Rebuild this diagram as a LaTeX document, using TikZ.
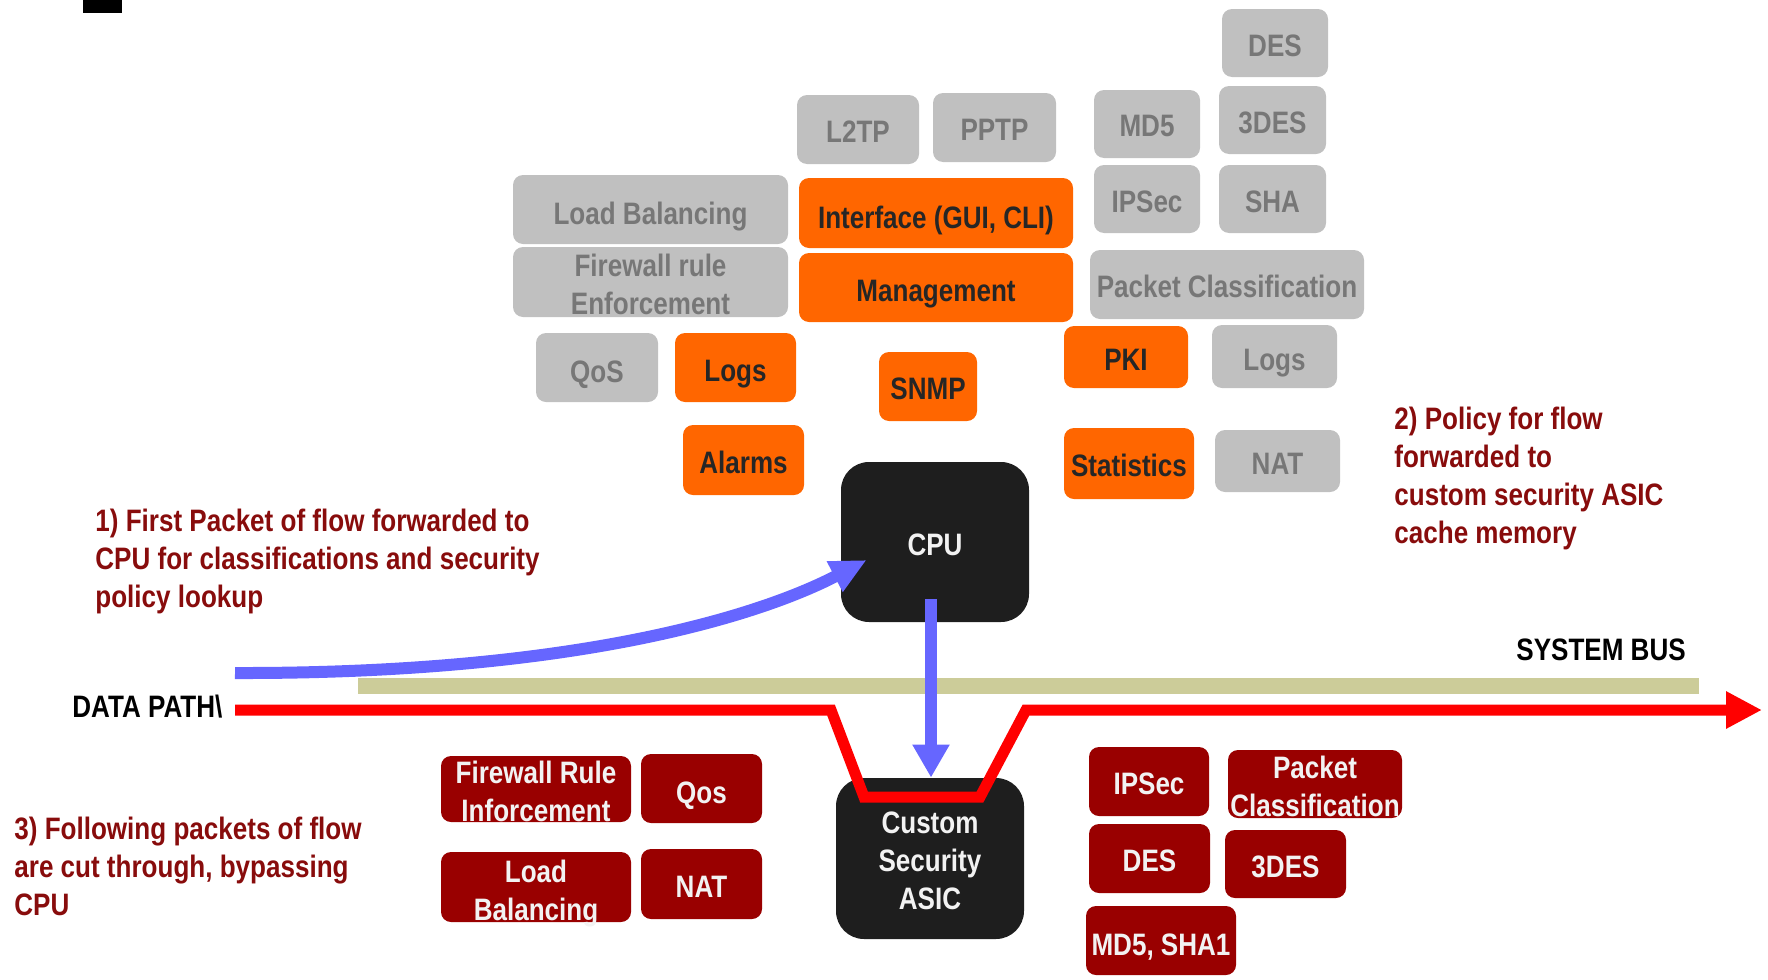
\documentclass[tikz,border=0pt]{standalone}
\usepackage{fontspec}
\setmainfont{Liberation Sans}[FakeStretch=0.84]
\usetikzlibrary{arrows.meta,calc}
\definecolor{boxgray}{HTML}{C0C0C0}
\definecolor{txtgray}{HTML}{777777}
\definecolor{boxorange}{HTML}{FF6600}
\definecolor{txtdark}{HTML}{262626}
\definecolor{boxred}{HTML}{990000}
\definecolor{boxblack}{HTML}{1E1E1E}
\definecolor{annot}{HTML}{880C0C}
\definecolor{flowblue}{HTML}{6666FF}
\definecolor{pathred}{HTML}{FF0000}
\definecolor{busgreen}{HTML}{CCCC99}
% \bx{name}{box style}{text style}{x1}{y1}{x2}{y2}{text}
\newcommand\bx[8]{\node[#2, minimum width={(#6-#4)*0.5pt}, minimum height={(#7-#5)*0.5pt},
  label={[name=#1-t, boxtext, #3]center:{#8}}] (#1) at ({(#4+#6)/2},{(#5+#7)/2}) {};}
\begin{document}
\begin{tikzpicture}[x=0.5pt,y=-0.5pt,
  txt/.style={font=\bfseries\fontsize{15.5pt}{19pt}\selectfont},
  boxtext/.style={txt, inner sep=0pt, align=center, yshift=-1.2pt},
  lower/.style={yshift=-2.3pt},
  base/.style={inner sep=0pt, rounded corners=5pt},
  graybox/.style={base, fill=boxgray},
  orangebox/.style={base, fill=boxorange},
  redbox/.style={base, fill=boxred},
  chipbox/.style={base, fill=boxblack, rounded corners=14pt},
  graytext/.style={text=txtgray},
  darktext/.style={text=txtdark},
  lighttext/.style={text=white!95!black},
  plainrect/.style={inner sep=0pt},
  annottext/.style={txt, text=annot, align=left, inner sep=0pt, anchor=west},
  labeltext/.style={txt, text=black, inner sep=0pt, anchor=west},
  flowarrow/.style={draw=flowblue, line width=6pt, -{Triangle[length=18pt,width=16pt]}},
  datapath/.style={draw=pathred, line width=5.5pt, line join=miter, -{Triangle[length=18pt,width=17.5pt]}}
]
\useasboundingbox (0,0) rectangle (1768,980);

% top-left black mark
\bx{blk}{plainrect, fill=black}{}{83}{0}{122}{13}{}

% system bus
\bx{bus}{plainrect, fill=busgreen}{}{358}{678}{1699}{694}{}

% top boxes
\bx{des}{graybox}{graytext}{1222}{9}{1328}{77}{DES}
\bx{l2tp}{graybox}{graytext}{797}{95}{919}{164}{L2TP}
\bx{pptp}{graybox}{graytext}{933}{93}{1056}{162}{PPTP}
\bx{md5}{graybox}{graytext}{1094}{90}{1200}{158}{MD5}
\bx{tdes}{graybox}{graytext}{1219}{86}{1326}{154}{3DES}
\bx{lb}{graybox}{graytext, lower}{513}{175}{788}{244}{Load Balancing}
\bx{iface}{orangebox}{darktext, lower}{799}{178}{1073}{248}{Interface (GUI, CLI)}
\bx{ipsec}{graybox}{graytext}{1094}{165}{1200}{233}{IPSec}
\bx{sha}{graybox}{graytext}{1219}{165}{1326}{233}{SHA}
\bx{fw}{graybox}{graytext}{513}{247}{788}{317}{Firewall rule\\Enforcement}
\bx{mgmt}{orangebox}{darktext, lower}{799}{253}{1073}{322}{Management}
\bx{pc}{graybox}{graytext}{1090}{250}{1364}{319}{Packet Classification}
\bx{qos}{graybox}{graytext, lower}{536}{333}{658}{402}{QoS}
\bx{logs}{orangebox}{darktext, lower}{675}{333}{796}{402}{Logs}
\bx{snmp}{orangebox}{darktext}{879}{352}{977}{421}{SNMP}
\bx{pki}{orangebox}{darktext}{1064}{326}{1188}{388}{PKI}
\bx{logsb}{graybox}{graytext, lower}{1212}{325}{1337}{388}{Logs}
\bx{alarms}{orangebox}{darktext}{683}{425}{804}{495}{Alarms}
\bx{stats}{orangebox}{darktext}{1064}{428}{1194}{499}{Statistics}
\bx{nat}{graybox}{graytext}{1215}{430}{1340}{492}{NAT}

% chips
\bx{cpu}{chipbox}{lighttext}{841}{462}{1029}{622}{CPU}
\bx{asic}{chipbox}{lighttext}{836}{778}{1024}{939}{Custom\\Security\\ASIC}

% bottom boxes
\bx{bfw}{redbox}{lighttext}{441}{756}{631}{822}{Firewall Rule\\Inforcement}
\bx{bqos}{redbox}{lighttext, lower}{641}{754}{762}{823}{Qos}
\bx{blb}{redbox}{lighttext, lower}{441}{852}{631}{922}{Load\\Balancing}
\bx{bnat}{redbox}{lighttext}{641}{849}{762}{919}{NAT}
\bx{bipsec}{redbox}{lighttext}{1089}{747}{1209}{816}{IPSec}
\bx{bpc}{redbox}{lighttext}{1228}{750}{1402}{818}{Packet\\Classification}
\bx{bdes}{redbox}{lighttext}{1089}{824}{1210}{893}{DES}
\bx{btdes}{redbox}{lighttext}{1225}{830}{1346}{898}{3DES}
\bx{bmd}{redbox}{lighttext, lower}{1086}{906}{1236}{975}{MD5, SHA1}

% labels
\node[annottext] (note1) at (95,561.5) {1) First Packet of flow forwarded to\\CPU for classifications and security\\policy lookup};
\node[annottext] (note2) at (1394,478.5) {2) Policy for flow\\forwarded to\\custom security ASIC\\cache memory};
\node[annottext] (note3) at (14,866) {3) Following packets of flow\\are cut through, bypassing\\CPU};
\node[labeltext] (dp) at (72,707) {DATA PATH\textbackslash};
\node[labeltext] (sb) at (1516,650) {SYSTEM BUS};

% data path
\coordinate (rstart) at (235,710);
\coordinate (rend) at (1762,710);
\draw[datapath] (rstart) -- (831,710) -- (864,797) -- (980,797) -- (1026,710) -- (rend);

% flows
\coordinate (bstart) at (235,673);
\coordinate (btip) at ($(cpu.west)+(26,18)$);
\draw[flowarrow] (bstart) .. controls (620,674) and (790,600) .. (btip);
\coordinate (vstart) at (931,599);
\draw[flowarrow, -{Triangle[length=16.5pt,width=17.5pt]}] (vstart) -- (vstart |- asic.north);
\end{tikzpicture}
\end{document}
